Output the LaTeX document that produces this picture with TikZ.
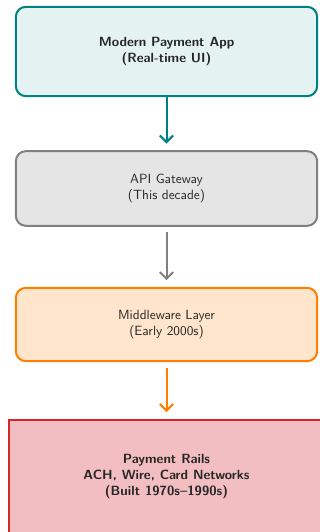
\documentclass[tikz,border=0pt]{standalone}
\usetikzlibrary{arrows.meta}
\definecolor{railsline}{RGB}{214,39,40}
\definecolor{railsfill}{RGB}{242,190,194}

\begin{document}
\begin{tikzpicture}[x=0.75pt,y=-0.75pt,font=\sffamily]
	\tikzstyle{layer}=[draw,rounded corners=7.5pt,line width=1.5pt,
		minimum width=226pt,align=center,text=black!85]
	\tikzstyle{link}=[line width=1.5pt,shorten <=4pt,shorten >=5pt,
		-{Straight Barb[length=5pt,width=10pt]}]
	\clip (0,0) rectangle (320,532);
	% stack of layers, newest on top
	\node[layer,draw=teal,fill=teal!10,minimum height=67pt,font=\sffamily\bfseries]
		(app) at (166.5,51.5) {Modern Payment App\\(Real-time UI)};
	\node[layer,draw=gray,fill=gray!20,minimum height=56pt]
		(api) at (166.5,188.5) {API Gateway\\(This decade)};
	\node[layer,draw=orange,fill=orange!20,minimum height=55pt]
		(mid) at (166.5,324.5) {Middleware Layer\\(Early 2000s)};
	\node[layer,rounded corners=0pt,draw=railsline,fill=railsfill,
		minimum width=237pt,minimum height=86pt,font=\sffamily\bfseries]
		(rails) at (166.5,477) {Payment Rails\\ACH, Wire, Card Networks\\(Built 1970s--1990s)};
	\draw[link,teal,shorten <=0pt] (app) -- (api);
	\draw[link,gray] (api) -- (mid);
	\draw[link,orange] (mid) -- (rails);
\end{tikzpicture}
\end{document}
